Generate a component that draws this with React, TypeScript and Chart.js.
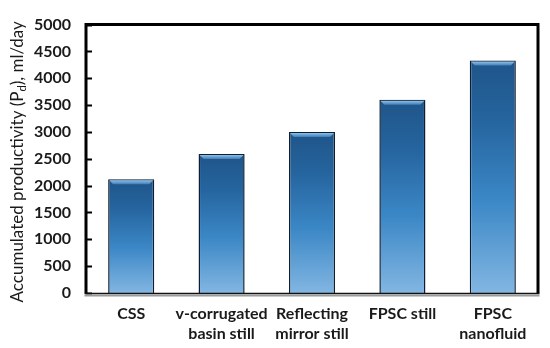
import React, { useEffect, useRef } from "react";
import { Chart, registerables } from "chart.js";

Chart.register(...registerables);

const categories: string[][] = [
  ["CSS"],
  ["v-corrugated", "basin still"],
  ["Reflecting", "mirror still"],
  ["FPSC still"],
  ["FPSC", "nanofluid"],
];
const productivity: number[] = [2120, 2590, 3000, 3600, 4330];
const yMin = 0;
const yMax = 5000;
const yStep = 500;
const yTitleMain = "Accumulated productivity (P";
const yTitleSub = "d";
const yTitleEnd = "), ml/day";

const FONT = "Lato, 'Open Sans', sans-serif";

const framePlugin = {
  id: "framePlugin",
  afterDatasetsDraw(chart: any) {
    const { ctx, chartArea, scales } = chart;
    const { left, top, right, bottom } = chartArea;
    const meta = chart.getDatasetMeta(0);
    ctx.save();
    // bevel on bar tops
    meta.data.forEach((bar: any) => {
      const x0 = bar.x - bar.width / 2 + 1;
      const x1 = bar.x + bar.width / 2 - 1;
      const y0 = bar.y + 1;
      const h = 4;
      ctx.beginPath();
      ctx.moveTo(x0, y0);
      ctx.lineTo(x1, y0);
      ctx.lineTo(x1 - h, y0 + h);
      ctx.lineTo(x0 + h, y0 + h);
      ctx.closePath();
      const g = ctx.createLinearGradient(0, y0, 0, y0 + h);
      g.addColorStop(0, "#8fc0ea");
      g.addColorStop(1, "#3f7fb8");
      ctx.fillStyle = g;
      ctx.fill();
    });
    // inner tick marks
    ctx.strokeStyle = "#000";
    ctx.lineWidth = 2;
    const ys = scales.y;
    ys.ticks.forEach((t: any) => {
      const py = Math.round(ys.getPixelForValue(t.value)) + 0.5;
      ctx.beginPath();
      ctx.moveTo(left, py);
      ctx.lineTo(left + 6, py);
      ctx.stroke();
    });
    // frame left/top/right
    ctx.lineWidth = 3;
    ctx.beginPath();
    ctx.moveTo(left, bottom);
    ctx.lineTo(left, top);
    ctx.lineTo(right, top);
    ctx.lineTo(right, bottom);
    ctx.stroke();
    // bottom axis
    ctx.lineWidth = 1.5;
    ctx.strokeStyle = "#111";
    ctx.beginPath();
    ctx.moveTo(left - 1.5, bottom + 0.5);
    ctx.lineTo(right + 1.5, bottom + 0.5);
    ctx.stroke();
    ctx.lineWidth = 2;
    ctx.strokeStyle = "#9a9a9a";
    ctx.beginPath();
    ctx.moveTo(left - 1.5, bottom + 2.5);
    ctx.lineTo(right + 1.5, bottom + 2.5);
    ctx.stroke();
    // y title with subscript
    ctx.translate(18, (top + bottom) / 2 + 3);
    ctx.rotate(-Math.PI / 2);
    ctx.fillStyle = "#1a1a1a";
    ctx.textBaseline = "middle";
    const mainFont = `17px ${FONT}`;
    const subFont = `11px ${FONT}`;
    ctx.font = mainFont;
    const w1 = ctx.measureText(yTitleMain).width;
    const w3 = ctx.measureText(yTitleEnd).width;
    ctx.font = subFont;
    const w2 = ctx.measureText(yTitleSub).width;
    const total = w1 + w2 + w3;
    let x = -total / 2;
    ctx.textAlign = "left";
    ctx.font = mainFont;
    ctx.fillText(yTitleMain, x, 0);
    x += w1;
    ctx.font = subFont;
    ctx.fillText(yTitleSub, x, 4);
    x += w2;
    ctx.font = mainFont;
    ctx.fillText(yTitleEnd, x, 0);
    ctx.restore();
  },
};

export default function App() {
  const ref = useRef<HTMLCanvasElement | null>(null);
  useEffect(() => {
    document.body.style.margin = "0";
    const canvas = ref.current;
    if (!canvas) return;
    const chart = new Chart(canvas, {
      type: "bar",
      data: {
        labels: categories,
        datasets: [
          {
            data: productivity,
            backgroundColor: (c: any) => {
              const ch = c.chart;
              const ys = ch.scales?.y;
              if (!ys || !c.parsed) return "#3a85c3";
              const yt = ys.getPixelForValue(c.parsed.y);
              const yb = ys.getPixelForValue(0);
              if (!Number.isFinite(yt) || !Number.isFinite(yb) || yt === yb) return "#3a85c3";
              const g = ch.ctx.createLinearGradient(0, yt, 0, yb);
              g.addColorStop(0, "#1f5589");
              g.addColorStop(0.25, "#25649e");
              g.addColorStop(0.6, "#3b87c6");
              g.addColorStop(1, "#82b6e2");
              return g;
            },
            borderColor: "#0e1f33",
            borderWidth: 1.5,
            borderSkipped: "bottom",
            categoryPercentage: 1,
            barPercentage: 0.51,
          },
        ],
      },
      options: {
        responsive: false,
        animation: false,
        layout: { padding: { left: 0, top: 17, right: 12, bottom: 0 } },
        plugins: {
          legend: { display: false },
          tooltip: { enabled: false },
        },
        scales: {
          x: {
            grid: { display: false, drawTicks: false },
            border: { display: false },
            ticks: {
              color: "#1a1a1a",
              font: { family: FONT, size: 16, weight: "bold", lineHeight: 1.25 },
              padding: 11,
              maxRotation: 0,
              autoSkip: false,
            },
            afterFit: (s: any) => {
              s.height = 55;
            },
          },
          y: {
            min: yMin,
            max: yMax,
            grid: { display: false, drawTicks: false },
            border: { display: false },
            ticks: {
              stepSize: yStep,
              color: "#1a1a1a",
              font: { family: FONT, size: 16, weight: "bold" },
              padding: 15,
              callback: (v: any) => String(v),
            },
            afterFit: (s: any) => {
              s.width = 86;
            },
          },
        },
      },
      plugins: [framePlugin],
    } as any);
    return () => chart.destroy();
  }, []);
  return (
    <div style={{ width: 550, height: 348, background: "#fff" }}>
      <canvas ref={ref} width={550} height={348} />
    </div>
  );
}
